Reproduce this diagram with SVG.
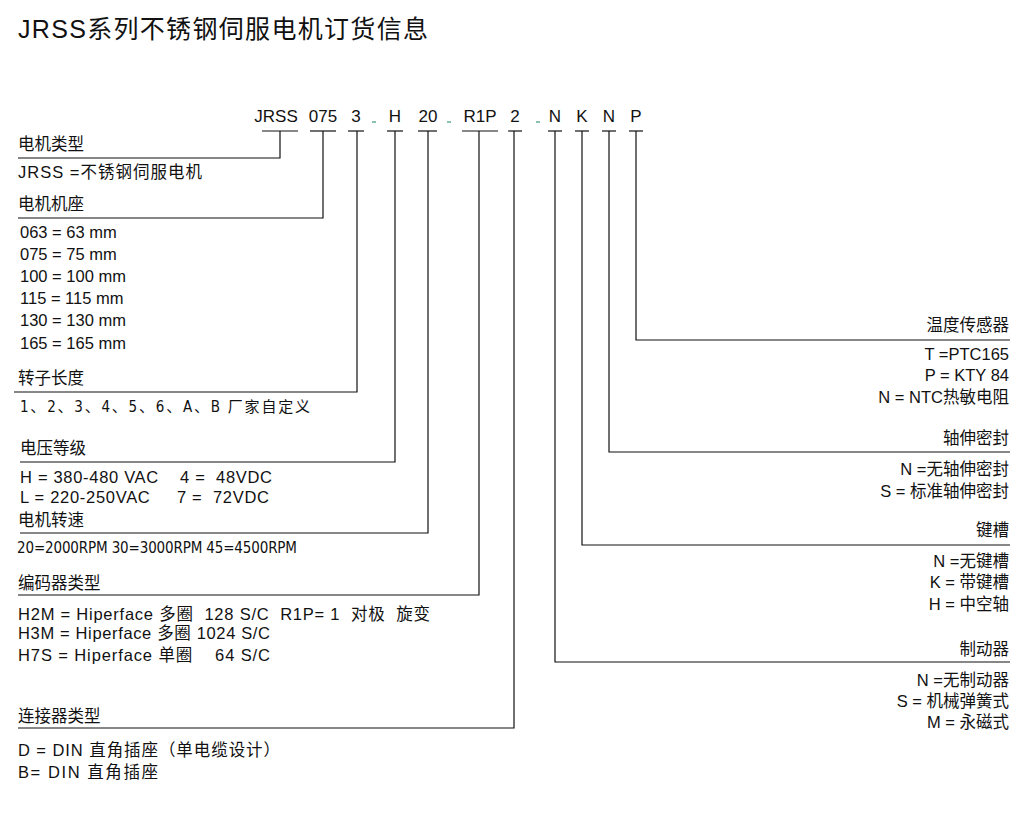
<svg xmlns="http://www.w3.org/2000/svg" width="1026" height="838" viewBox="0 0 1026 838">
<style>
text{font-family:"Liberation Sans","Noto Sans CJK SC",sans-serif;fill:#111}
.t{font-size:16.5px}
.c{font-size:17px;text-anchor:middle}
.r{font-size:16.5px;text-anchor:end}
.n{font-size:15px;font-family:"DejaVu Sans Condensed","Noto Sans CJK SC",sans-serif}
line,polyline{stroke:#111;stroke-width:1.2;fill:none}
.d{stroke:#3a9a7a;stroke-width:1.2}
</style>
<rect width="1026" height="838" fill="#fff"/>
<text x="18" y="38" style="font-size:25px" textLength="410">JRSS系列不锈钢伺服电机订货信息</text>
<g id="code">
<text class="c" x="276" y="122">JRSS</text><text class="c" x="323" y="122">075</text><text class="c" x="356" y="122">3</text>
<text class="c" x="395" y="122">H</text><text class="c" x="428" y="122">20</text><text class="c" x="480" y="122">R1P</text>
<text class="c" x="515" y="122">2</text><text class="c" x="555" y="122">N</text><text class="c" x="582" y="122">K</text>
<text class="c" x="609" y="122">N</text><text class="c" x="636" y="122">P</text>
<line class="d" x1="372" y1="122" x2="376" y2="122"/><line class="d" x1="447" y1="122" x2="451" y2="122"/><line class="d" x1="536" y1="122" x2="540" y2="122"/>
</g>
<g id="connectors">
<line x1="262" y1="131" x2="298" y2="131"/><polyline points="280,131 280,158 18,158"/>
<line x1="310" y1="131" x2="336" y2="131"/><polyline points="323,131 323,218 18,218"/>
<line x1="348" y1="131" x2="364" y2="131"/><polyline points="357,131 357,392 14,392"/>
<line x1="387" y1="131" x2="403" y2="131"/><polyline points="395,131 395,462 20,462"/>
<line x1="418" y1="131" x2="437" y2="131"/><polyline points="428,131 428,533 20,533"/>
<line x1="462" y1="131" x2="498" y2="131"/><polyline points="479,131 479,595 18,595"/>
<line x1="508" y1="131" x2="522" y2="131"/><polyline points="514,131 514,728 18,728"/>
<line x1="548" y1="131" x2="562" y2="131"/><polyline points="555,131 555,662 1010,662"/>
<line x1="575" y1="131" x2="589" y2="131"/><polyline points="582,131 582,545 1010,545"/>
<line x1="602" y1="131" x2="616" y2="131"/><polyline points="609,131 609,452 1010,452"/>
<line x1="629" y1="131" x2="643" y2="131"/><polyline points="636,131 636,340 1010,340"/>
</g>
<g id="n1"><text class="t" x="18" y="150">电机类型</text><text class="t" x="18" y="178" textLength="184">JRSS =不锈钢伺服电机</text></g>
<g id="n2"><text class="t" x="18" y="210">电机机座</text>
<text class="t" x="20" y="238">063 = 63 mm</text><text class="t" x="20" y="260">075 = 75 mm</text><text class="t" x="20" y="282">100 = 100 mm</text>
<text class="t" x="20" y="304">115 = 115 mm</text><text class="t" x="20" y="326">130 = 130 mm</text><text class="t" x="20" y="349">165 = 165 mm</text></g>
<g id="n3"><text class="t" x="18" y="384">转子长度</text><text class="n" x="20" y="412" textLength="290">1、2、3、4、5、6、A、B 厂家自定义</text></g>
<g id="n4"><text class="t" x="20" y="454">电压等级</text>
<text class="t" x="20" y="483" xml:space="preserve" textLength="252">H = 380-480 VAC    4 =  48VDC</text>
<text class="t" x="20" y="503" xml:space="preserve" textLength="249">L = 220-250VAC     7 =  72VDC</text></g>
<g id="n5"><text class="t" x="18" y="526">电机转速</text><text class="n" x="17" y="553" textLength="280">20=2000RPM 30=3000RPM 45=4500RPM</text></g>
<g id="n6"><text class="t" x="18" y="589">编码器类型</text>
<text class="t" x="18" y="620" xml:space="preserve" textLength="412">H2M = Hiperface 多圈  128 S/C  R1P= 1  对极  旋变</text>
<text class="t" x="18" y="639" xml:space="preserve" textLength="252">H3M = Hiperface 多圈 1024 S/C</text>
<text class="t" x="18" y="661" xml:space="preserve" textLength="252">H7S = Hiperface 单圈    64 S/C</text></g>
<g id="n7"><text class="t" x="18" y="722">连接器类型</text>
<text class="t" x="18" y="756" textLength="262">D = DIN  直角插座（单电缆设计）</text><text class="t" x="18" y="778" textLength="140">B= DIN  直角插座</text></g>
<g id="n8"><text class="r" x="1009" y="331">温度传感器</text><text class="r" x="1009" y="360">T =PTC165</text><text class="r" x="1009" y="381">P = KTY 84</text><text class="r" x="1009" y="403">N = NTC热敏电阻</text></g>
<g id="n9"><text class="r" x="1009" y="444">轴伸密封</text><text class="r" x="1009" y="475">N =无轴伸密封</text><text class="r" x="1009" y="497">S = 标准轴伸密封</text></g>
<g id="n10"><text class="r" x="1009" y="536">键槽</text><text class="r" x="1009" y="567">N =无键槽</text><text class="r" x="1009" y="588">K = 带键槽</text><text class="r" x="1009" y="610">H = 中空轴</text></g>
<g id="n11"><text class="r" x="1009" y="655">制动器</text><text class="r" x="1009" y="686">N =无制动器</text><text class="r" x="1009" y="707">S = 机械弹簧式</text><text class="r" x="1009" y="728">M = 永磁式</text></g>
</svg>
